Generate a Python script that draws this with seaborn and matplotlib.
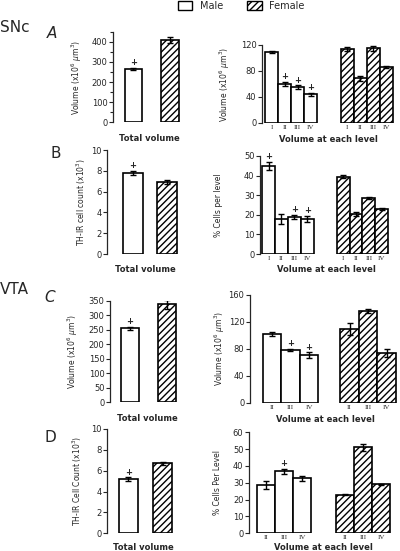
import numpy as np
import pandas as pd
import matplotlib
matplotlib.use("Agg")
import matplotlib.pyplot as plt
import seaborn as sns
from matplotlib.patches import Patch

#--------------------------------data----------------------------#
sexes = ["Male", "Female"]
sn_levels = ["I", "II", "III", "IV"]
vta_levels = ["II", "III", "IV"]

# SNc volume
sn_vol_total = [267, 410]
sn_vol_total_err = [5, 15]
sn_vol_total_sig = [True, False]
sn_vol_m = [109, 60, 55, 44]
sn_vol_m_err = [2, 3, 3, 2]
sn_vol_f = [114, 69, 115, 86]
sn_vol_f_err = [3, 4, 4, 2]
sn_vol_sig = [False, True, True, True]

# SNc TH-IR cells
sn_cell_total = [7.8, 6.9]
sn_cell_total_err = [0.2, 0.2]
sn_cell_total_sig = [True, False]
sn_cell_m = [45, 18, 19, 17.8]
sn_cell_m_err = [2, 2.5, 1, 1.5]
sn_cell_f = [39.5, 20.4, 28.5, 23.2]
sn_cell_f_err = [0.6, 1, 0.6, 0.5]
sn_cell_sig = [True, False, True, True]

# VTA volume
vta_vol_total = [255, 337]
vta_vol_total_err = [6, 15]
vta_vol_total_sig = [True, False]
vta_vol_m = [102, 78, 71]
vta_vol_m_err = [3, 1.5, 4]
vta_vol_f = [110, 136, 74]
vta_vol_f_err = [9, 3, 6]
vta_vol_sig = [False, True, True]

# VTA TH-IR cells
vta_cell_total = [5.2, 6.7]
vta_cell_total_err = [0.15, 0.15]
vta_cell_total_sig = [True, False]
vta_cell_m = [28.7, 36.8, 32.6]
vta_cell_m_err = [2.5, 1.5, 1.5]
vta_cell_f = [23, 51, 29]
vta_cell_f_err = [0.5, 2, 0.5]
vta_cell_sig = [False, True, False]

#--------------------------------style----------------------------#
sns.set_style("ticks")
plt.rcParams["font.family"] = ["DejaVu Sans"]
plt.rcParams["hatch.linewidth"] = 1.0

W, H = 400, 551
fig = plt.figure(figsize=(W / 100, H / 100), dpi=100)
HATCH = "/////"
pal = {"Male": "white", "Female": "white"}


#place an axes by pixel box
def add_ax(x0, x1, ytop, ybot):
    return fig.add_axes([x0 / W, 1 - ybot / H, (x1 - x0) / W, (ybot - ytop) / H])


def finish(ax, box, ylim, step, minor, ylabel, ylab_dx, xlabel, xlab_dy):
    ax.set_ylim(*ylim)
    ax.set_yticks(np.arange(0, ylim[1] + 1e-6, step))
    if minor:
        ax.set_yticks(np.arange(0, ylim[1] + 1e-6, minor), minor=True)
    sns.despine(ax=ax, bottom=True)
    ax.spines["left"].set_linewidth(0.9)
    ax.tick_params(axis="y", labelsize=6, length=3, width=0.8, pad=1)
    ax.tick_params(axis="y", which="minor", length=2, width=0.8)
    ax.set_facecolor("none")
    w = box[1] - box[0]
    h = box[3] - box[2]
    ax.set_ylabel(ylabel, fontsize=5.5)
    ax.yaxis.set_label_coords(-ylab_dx / w, 0.5)
    ax.set_xlabel(xlabel, fontsize=6, fontweight="bold")
    ax.xaxis.set_label_coords(0.5, -xlab_dy / h)


def marks(ax, pos, vals, errs, sig):
    for p, v, e, s in zip(pos, vals, errs, sig):
        if s:
            ax.annotate("+", xy=(p, v + e), xytext=(0, 0.5), textcoords="offset points",
                        ha="center", va="bottom", fontsize=6, fontweight="bold")


def total_panel(box, vals, errs, sig, xlim, width, ylim, step, ylabel, ylab_dx,
                minor=None, xlab_dy=12):
    ax = add_ax(*box)
    df = pd.DataFrame({"sex": sexes, "value": vals})
    sns.barplot(data=df, x="sex", y="value", hue="sex", order=sexes, hue_order=sexes,
                palette=pal, dodge=False, width=width, edgecolor="black", linewidth=1.2,
                errorbar=None, legend=False, ax=ax)
    for bar in ax.containers[1]:
        bar.set_hatch(HATCH)
    ax.errorbar(range(2), vals, yerr=errs, fmt="none", ecolor="black",
                elinewidth=1, capsize=2, capthick=1)
    marks(ax, range(2), vals, errs, sig)
    ax.set_xlim(*xlim)
    ax.set_xticks([])
    finish(ax, box, ylim, step, minor, ylabel, ylab_dx, "Total volume", xlab_dy)
    return ax


def level_panel(box, labels, m, m_err, f, f_err, sig, gap, xlim, ylim, step, ylabel,
                ylab_dx, xlab_dy=12):
    ax = add_ax(*box)
    n = len(labels)
    pos_m = np.arange(n, dtype=float)
    pos_f = pos_m + gap
    df = pd.DataFrame({"pos": np.r_[pos_m, pos_f], "value": m + f,
                       "sex": ["Male"] * n + ["Female"] * n})
    sns.barplot(data=df, x="pos", y="value", hue="sex", hue_order=sexes, native_scale=True,
                palette=pal, dodge=False, width=1, edgecolor="black", linewidth=1.2,
                errorbar=None, legend=False, ax=ax)
    for bar in ax.containers[1]:
        bar.set_hatch(HATCH)
    ax.errorbar(df["pos"], df["value"], yerr=m_err + f_err, fmt="none", ecolor="black",
                elinewidth=1, capsize=2, capthick=1)
    marks(ax, pos_m, m, m_err, sig)
    ax.set_xlim(*xlim)
    ax.set_xticks(df["pos"])
    ax.set_xticklabels(labels * 2, fontsize=5, family=["Liberation Serif"])
    ax.tick_params(axis="x", length=0, pad=1.5)
    finish(ax, box, ylim, step, None, ylabel, ylab_dx, "Volume at each level", xlab_dy)
    return ax


vol_lab = "Volume (x10$^6$ $\\mu$m$^3$)"

# SNc
total_panel((113, 186, 31.7, 122.3), sn_vol_total, sn_vol_total_err, sn_vol_total_sig,
            (-0.56, 1.44), 0.47, (0, 450), 100, vol_lab, 29, minor=50)
level_panel((262, 395, 45, 123), sn_levels, sn_vol_m, sn_vol_m_err, sn_vol_f, sn_vol_f_err,
            sn_vol_sig, 5.77, (-0.73, 9.42), (0, 120), 40, vol_lab, 30)
total_panel((107, 184, 150, 254), sn_cell_total, sn_cell_total_err, sn_cell_total_sig,
            (-0.78, 1.52), 0.6, (0, 10), 2, "TH-IR cell count (x10$^3$)", 19, xlab_dy=11)
level_panel((260, 392, 156, 254), sn_levels, sn_cell_m, sn_cell_m_err, sn_cell_f, sn_cell_f_err,
            sn_cell_sig, 5.8, (-0.67, 9.6), (0, 50), 10, "% Cells per level", 37, xlab_dy=11)

# VTA
total_panel((110, 184, 300.7, 402.3), vta_vol_total, vta_vol_total_err, vta_vol_total_sig,
            (-0.53, 1.47), 0.49, (0, 350), 50, vol_lab, 30)
level_panel((250, 400, 295, 402.7), vta_levels, vta_vol_m, vta_vol_m_err, vta_vol_f, vta_vol_f_err,
            vta_vol_sig, 4.2, (-1.19, 6.93), (0, 160), 40, vol_lab, 23)
total_panel((107, 180, 429, 533.3), vta_cell_total, vta_cell_total_err, vta_cell_total_sig,
            (-0.63, 1.51), 0.56, (0, 10), 2, "TH-IR Cell Count (x10$^3$)", 23, xlab_dy=9.5)
level_panel((249, 397, 432.3, 533.3), vta_levels, vta_cell_m, vta_cell_m_err, vta_cell_f, vta_cell_f_err,
            vta_cell_sig, 4.39, (-0.94, 7.28), (0, 60), 10, "% Cells Per Level", 27, xlab_dy=9.5)

# region / panel letters
fig.text(0 / W, 1 - 28 / H, "SNc", fontsize=11, va="center")
fig.text(0 / W, 1 - 289 / H, "VTA", fontsize=11, va="center")
fig.text(47 / W, 1 - 33 / H, "A", fontsize=11, style="italic", va="center")
fig.text(50 / W, 1 - 153 / H, "B", fontsize=11, va="center")
fig.text(44 / W, 1 - 297 / H, "C", fontsize=11, style="italic", va="center")
fig.text(45 / W, 1 - 437 / H, "D", fontsize=11, va="center")

handles = [Patch(facecolor="white", edgecolor="black", label="Male"),
           Patch(facecolor="white", edgecolor="black", hatch=HATCH, label="Female")]
fig.legend(handles=handles, loc="upper left", bbox_to_anchor=(178 / W, 1 - 1 / H), ncol=2,
           frameon=False, fontsize=7, handlelength=1.45, handleheight=1.0, handletextpad=0.8,
           columnspacing=2.5, borderpad=0, borderaxespad=0)

fig.savefig("out.png", dpi=100)
